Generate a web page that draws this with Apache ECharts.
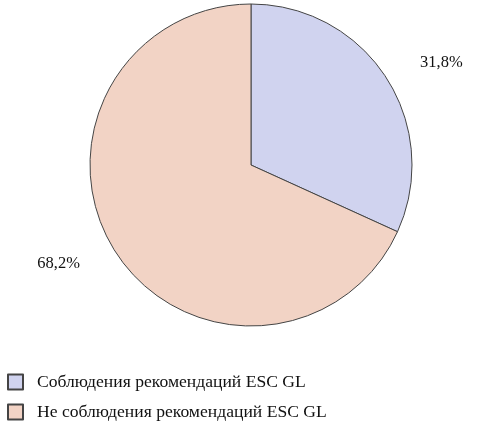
<!DOCTYPE html>
<html><head><meta charset="utf-8">
<script src="https://cdn.jsdelivr.net/npm/echarts@6/dist/echarts.min.js"></script>
<style>html,body{margin:0;padding:0;background:#fff}#c{width:500px;height:423px}</style>
</head><body><div id="c"></div>
<script>
const categories = ['Соблюдения рекомендаций ESC GL', 'Не соблюдения рекомендаций ESC GL'];
const values = [31.8, 68.2];
const colors = ['#d0d3ef', '#f2d3c5'];
const FONT = '"Liberation Serif", "DejaVu Serif", serif';
const labelShift = [[-5, 6], [3, -10]];
const chart = echarts.init(document.getElementById('c'));
chart.setOption({
  animation: false,
  textStyle: {fontFamily: FONT},
  legend: {
    orient: 'vertical', left: 7, top: 373, height: 60, padding: 0,
    itemWidth: 15, itemHeight: 15, itemGap: 12,
    icon: 'rect',
    textStyle: {fontFamily: FONT, fontSize: 17.6, color: '#111', padding: [0, 0, 0, 9]},
    data: categories
  },
  series: [{
    type: 'pie',
    center: [251, 165], radius: 161,
    startAngle: 90, clockwise: true,
    itemStyle: {borderColor: '#444', borderWidth: 1},
    label: {
      show: true, position: 'outside',
      formatter: p => String(p.value).replace('.', ',') + '%',
      fontFamily: FONT, fontSize: 16.5, color: '#111'
    },
    labelLine: {show: false, length: 40, length2: 0},
    labelLayout: p => ({dx: labelShift[p.dataIndex][0], dy: labelShift[p.dataIndex][1]}),
    data: categories.map((c, i) => ({name: c, value: values[i], itemStyle: {color: colors[i]}}))
  }]
});
</script></body></html>
